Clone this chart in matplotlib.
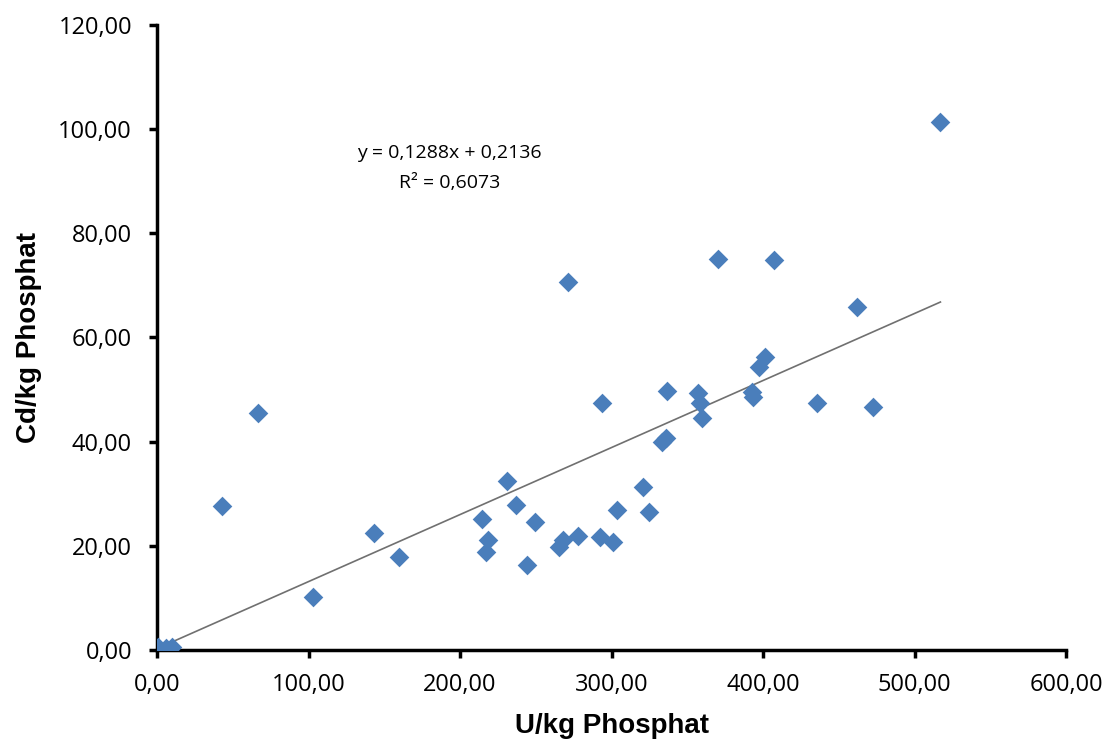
import matplotlib.pyplot as plt
from matplotlib.ticker import FuncFormatter

# U/kg Phosphat vs Cd/kg Phosphat
u_kg = [0.5, 6, 10, 43, 66.7, 103, 143, 160, 214.5, 231, 237, 218.5, 217,
        249.5, 244, 265, 268, 271, 370, 407, 462, 401, 397, 336.6, 357,
        358.4, 359.7, 392.7, 393.4, 293.7, 435.6, 472.6, 333, 336, 321,
        303.6, 324.8, 278, 292.4, 301, 517]
cd_kg = [0.5, 0.3, 0.6, 27.6, 45.5, 10.1, 22.4, 17.8, 25.1, 32.4, 27.8, 21.1,
         18.8, 24.5, 16.3, 19.7, 21.1, 70.7, 75.1, 74.9, 65.9, 56.3, 54.3,
         49.7, 49.3, 47.4, 44.5, 49.5, 48.6, 47.4, 47.4, 46.6, 39.9, 40.7,
         31.2, 26.8, 26.5, 21.8, 21.6, 20.7, 101.4]

slope = 0.1288
intercept = 0.2136
r2 = 0.6073

fig = plt.figure(figsize=(11.06, 7.4), dpi=100)
ax = fig.add_axes([0.142, 0.122, 0.822, 0.844])

ax.scatter(u_kg, cd_kg, marker='D', s=100, color='#4a7ebb', zorder=3, linewidths=0)

x0, x1 = 0, max(u_kg)
ax.plot([x0, x1], [slope * x0 + intercept, slope * x1 + intercept],
        color='#707070', lw=1.2, zorder=2)

def fmt(v):
    return ('%.4f' % v).replace('.', ',')

ax.text(193, 95.5, 'y = %sx + %s' % (fmt(slope), fmt(intercept)),
        ha='center', va='center', fontsize=14, family='Open Sans')
ax.text(193, 89.7, 'R² = %s' % fmt(r2),
        ha='center', va='center', fontsize=14, family='Open Sans')

ax.set_xlim(0, 600)
ax.set_ylim(0, 120)
ax.set_xticks(range(0, 601, 100))
ax.set_yticks(range(0, 121, 20))
comma = FuncFormatter(lambda v, p: ('%.2f' % v).replace('.', ','))
ax.xaxis.set_major_formatter(comma)
ax.yaxis.set_major_formatter(comma)

for s in ['top', 'right']:
    ax.spines[s].set_visible(False)
for s in ['left', 'bottom']:
    ax.spines[s].set_linewidth(2.5)
ax.tick_params(direction='out', length=6, width=2.5, labelsize=17)
ax.tick_params(axis='y', pad=12)
ax.tick_params(axis='x', pad=11)
for lab in ax.get_xticklabels() + ax.get_yticklabels():
    lab.set_family('Open Sans')

ax.set_xlabel('U/kg Phosphat', fontsize=20, fontweight='bold',
              family='Liberation Sans', labelpad=11)
ax.set_ylabel('Cd/kg Phosphat', fontsize=20, fontweight='bold',
              family='Liberation Sans', labelpad=12)

fig.savefig('out.png')
